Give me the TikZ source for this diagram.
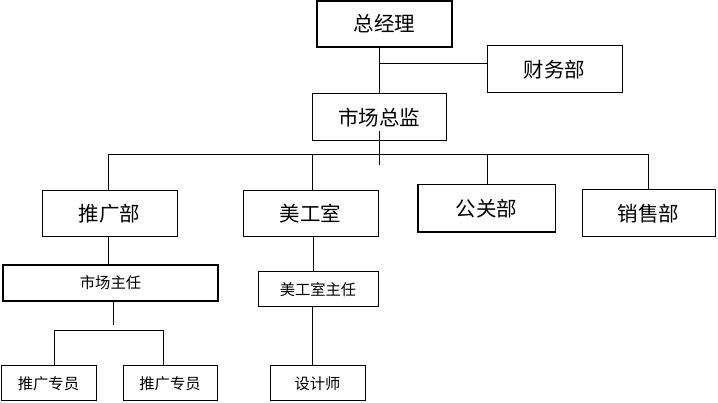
\documentclass[tikz,border=0pt]{standalone}
\usepackage{fontspec}
\newfontfamily\cjk{Noto Sans CJK SC}
\begin{document}
\begin{tikzpicture}[x=1pt,y=-1pt,
  box/.style={draw,line width=1pt,inner sep=0pt,font=\cjk\fontsize{20.5}{24}\selectfont},
  bigbox/.style={box,minimum width=135pt,minimum height=46pt},
  smallbox/.style={box,font=\cjk\fontsize{15.3}{18}\selectfont},
  thick box/.style={line width=2pt},
  conn/.style={line width=1pt}]
\useasboundingbox (0,0) rectangle (718,403);
% top level
\node[bigbox,thick box] (zjl) at (384.5,24) {\raisebox{2pt}{总经理}};
\node[bigbox,minimum height=47pt] (cwb) at (554.5,69.5) {财务部};
\node[bigbox,minimum width=134pt,minimum height=47pt] (sczj) at (379,117.5) {市场总监};
% departments
\node[bigbox] (tgb) at (109.5,214) {推广部};
\node[bigbox] (mgs) at (310.5,214) {美工室};
\node[bigbox,minimum width=137pt,minimum height=47pt] (ggb) at (486.5,208.5) {公关部};
\draw[line width=2pt] (ggb.north west) -- (ggb.south west) -- (ggb.south east);
\node[bigbox,minimum width=133pt,minimum height=47pt] (xsb) at (648.5,213.5) {销售部};
% supervisors
\node[smallbox,thick box,minimum width=215pt,minimum height=36pt] (sczr) at (110.5,283) {市场主任};
\node[smallbox,minimum width=120pt,minimum height=35pt] (mgszr) at (318,289.5) {美工室主任};
% staff
\node[smallbox,minimum width=95pt,minimum height=35pt] (tg1) at (48.5,383.5) {推广专员};
\node[smallbox,minimum width=94pt,minimum height=35pt] (tg2) at (170,383.5) {推广专员};
\node[smallbox,minimum width=95pt,minimum height=35pt] (sjs) at (317.5,383.5) {设计师};
% connectors
\draw[conn] (sczj.north |- zjl.south) -- (sczj.north);
\coordinate (j1) at (379,64);
\draw[conn] (j1) -- (j1 -| cwb.west);
\coordinate (s1) at (379,131);
\coordinate (s2) at (379,165);
\draw[conn] (s1) -- (s2);
\coordinate (b1) at (108,155);
\coordinate (b2) at (312,155);
\coordinate (b3) at (487,155);
\coordinate (b4) at (648,155);
\draw[conn] (b1 |- tgb.north) -- (b1) -- (b4) -- (b4 |- xsb.north);
\draw[conn] (b2) -- (b2 |- mgs.north);
\draw[conn] (b3) -- (b3 |- ggb.north);
\coordinate (t1) at (108,237);
\draw[conn] (t1 |- tgb.south) -- (t1 |- sczr.north);
\coordinate (m1) at (313,237);
\draw[conn] (m1 |- mgs.south) -- (m1 |- mgszr.north);
\coordinate (r1) at (113,325);
\draw[conn] (r1 |- sczr.south) -- (r1);
\coordinate (c1) at (54,331);
\coordinate (c2) at (163,331);
\draw[conn] (c1 |- tg1.north) -- (c1) -- (c2) -- (c2 |- tg2.north);
\coordinate (d1) at (312,307);
\draw[conn] (d1 |- mgszr.south) -- (d1 |- sjs.north);
\end{tikzpicture}
\end{document}
